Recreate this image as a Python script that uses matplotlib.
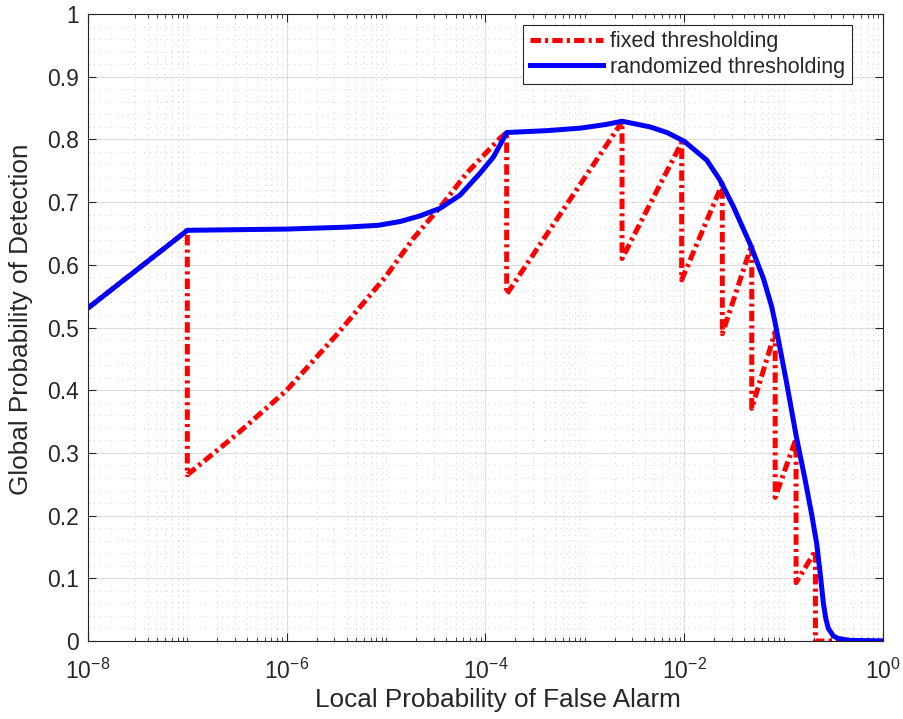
import numpy as np
import matplotlib
matplotlib.use("Agg")
import matplotlib.pyplot as plt
from matplotlib.ticker import FixedLocator, NullFormatter

plt.rcParams['font.family'] = ['Liberation Sans', 'DejaVu Sans']
plt.rcParams['mathtext.default'] = 'regular'
plt.rcParams['lines.scale_dashes'] = False

# exponents of the local false alarm probability (x = 10**exp)
rand_exp = [-8, -7, -6, -5.41, -5.08, -4.86, -4.66, -4.458, -4.257, -4.055, -3.92,
            -3.837, -3.787, -3.38, -3.045, -2.78, -2.626, -2.345, -2.174, -2.0,
            -1.774, -1.64, -1.506, -1.34, -1.203, -1.12, -1.085, -0.968, -0.875,
            -0.785, -0.718, -0.667, -0.634, -0.60, -0.575, -0.55, -0.50, -0.45,
            -0.33, 0]
rand_pd = [0.531, 0.655, 0.657, 0.660, 0.663, 0.669, 0.678, 0.690, 0.711, 0.746, 0.772,
           0.796, 0.811, 0.814, 0.818, 0.824, 0.829, 0.820, 0.811, 0.797,
           0.767, 0.735, 0.693, 0.634, 0.578, 0.533, 0.507, 0.41, 0.328,
           0.258, 0.202, 0.155, 0.11, 0.06, 0.035, 0.02, 0.008, 0.004,
           0.001, 0.0]

fixed_exp = [-8, -7, -7, -6.5, -6, -5.5, -5, -4.726, -4.425, -4.19, -3.854, -3.787,
             -3.787, -2.626, -2.626, -2.026, -2.026, -1.617, -1.617, -1.321, -1.321,
             -1.085, -1.085, -0.875, -0.875, -0.68, -0.68, 0]
fixed_pd = [0.531, 0.655, 0.265, 0.33, 0.40, 0.488, 0.582, 0.642, 0.698, 0.746, 0.802, 0.811,
            0.553, 0.828, 0.610, 0.795, 0.576, 0.729, 0.490, 0.632, 0.371,
            0.493, 0.229, 0.323, 0.093, 0.144, 0.0, 0.0]

major_exp = [-8, -6, -4, -2, 0]
y_ticks = [0, 0.1, 0.2, 0.3, 0.4, 0.5, 0.6, 0.7, 0.8, 0.9, 1]
y_labels = ['0', '0.1', '0.2', '0.3', '0.4', '0.5', '0.6', '0.7', '0.8', '0.9', '1']

txt = '#262626'
fig = plt.figure(figsize=(9.04, 7.19), dpi=100)
ax = fig.add_axes([0.0973, 0.1085, 0.8795, 0.872])

ax.plot(10.0 ** np.array(fixed_exp), fixed_pd, color='red', lw=3.6,
        dashes=(7.5, 3.0, 2.2, 3.0), label='fixed thresholding')
ax.plot(10.0 ** np.array(rand_exp), rand_pd, color='blue', lw=3.6,
        label='randomized thresholding')

ax.set_xscale('log')
ax.set_xlim(1e-8, 1)
ax.set_ylim(0, 1)

majors = [10.0 ** e for e in major_exp]
minors = [k * 10.0 ** e for e in range(-8, 0) for k in range(1, 10)]
minors = [m for m in minors if not any(np.isclose(m, majors))]
ax.xaxis.set_major_locator(FixedLocator(majors))
ax.xaxis.set_minor_locator(FixedLocator(minors))
ax.xaxis.set_minor_formatter(NullFormatter())
ax.set_xticklabels(['$10^{%d}$' % e for e in major_exp])
ax.set_yticks(y_ticks)
ax.set_yticklabels(y_labels)
ax.yaxis.set_minor_locator(FixedLocator(np.arange(0.02, 1.0, 0.02)))

ax.grid(True, which='major', color=txt, alpha=0.15, lw=0.8)
ax.grid(True, which='minor', color=txt, alpha=0.18, lw=0.6, linestyle=(0, (1, 3)))
ax.set_axisbelow(True)

ax.tick_params(which='both', direction='in', top=True, right=True, colors=txt,
               labelsize=16.5)
ax.tick_params(which='major', length=6, width=0.8)
ax.tick_params(axis='y', which='major', pad=6.5)
ax.tick_params(axis='x', which='major', pad=13)
ax.tick_params(axis='x', which='minor', length=3, width=0.6)
ax.tick_params(axis='y', which='minor', length=0)
for s in ax.spines.values():
    s.set_color(txt)
    s.set_linewidth(0.8)

ax.set_xlabel('Local Probability of False Alarm', fontsize=18.8, color=txt)
ax.set_ylabel('Global Probability of Detection', fontsize=18.8, color=txt)
ax.xaxis.set_label_coords(0.516, -0.075)
ax.yaxis.set_label_coords(-0.069, 0.513)

leg = ax.legend(loc='upper right', bbox_to_anchor=(0.961, 0.9825), borderaxespad=0,
                fontsize=15.5, handlelength=3.4, handletextpad=0.35, borderpad=0.3,
                labelspacing=0.2, fancybox=False, framealpha=1)
leg.get_frame().set_edgecolor(txt)
leg.get_frame().set_linewidth(0.8)
for t in leg.get_texts():
    t.set_color(txt)

fig.savefig('out.png', dpi=100)
